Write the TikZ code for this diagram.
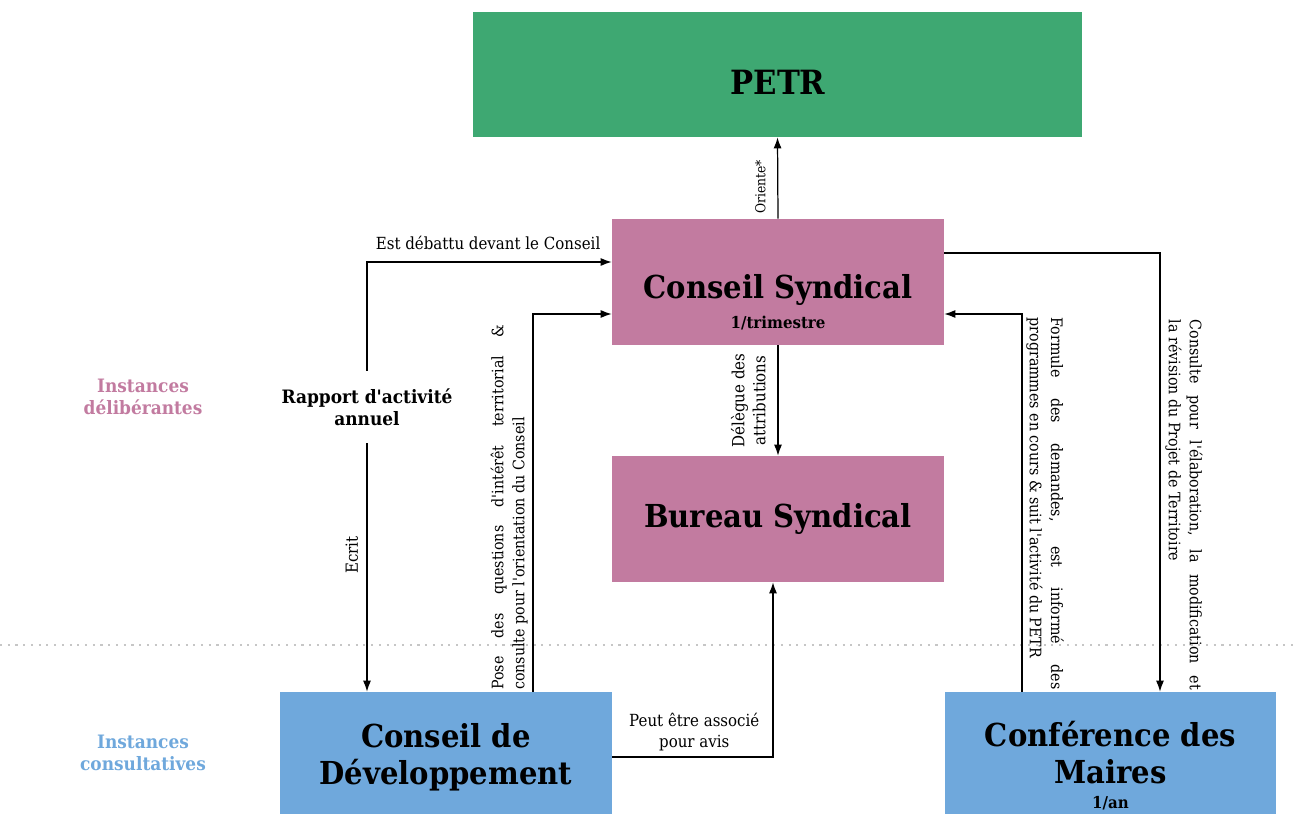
\documentclass[tikz,border=0pt]{standalone}
\usepackage{fontspec}
\setmainfont{DejaVu Serif}
\newfontfamily\slabfont[FakeStretch=0.92]{DejaVu Serif}
\newfontfamily\notefont[FakeStretch=0.9]{DejaVu Serif}
\usetikzlibrary{arrows.meta,positioning}

\definecolor{petrgreen}{HTML}{3EA872}
\definecolor{delibpink}{HTML}{C27BA0}
\definecolor{consultblue}{HTML}{6FA8DC}

\tikzset{
  instance/.style={draw=none, minimum width=6.64cm, minimum height=2.52cm, inner sep=0pt},
  title/.style={font=\slabfont\bfseries\fontsize{18}{21}\selectfont, align=center},
  smalltitle/.style={font=\slabfont\bfseries\fontsize{10.5}{12.5}\selectfont, align=center},
  note/.style={font=\notefont\fontsize{9.5}{12}\selectfont, align=center, inner sep=1pt},
  sidenote/.style={note, anchor=south, outer sep=#1},
  longnote/.style={note, font=\notefont\fontsize{9}{12}\selectfont, align=justify, text width=#1, anchor=south},
  link/.style={line width=0.7pt, -{Latex[length=2.2mm,width=1.6mm]}},
}

\begin{document}
\begin{tikzpicture}[x=0.02cm, y=-0.02cm]
\useasboundingbox (0,0) rectangle (1298,814);

% separation des instances
\draw[gray!45, line width=0.7pt, dash pattern=on 1.2pt off 3.2pt] (0,645) -- (1298,645);
\node[smalltitle, text=delibpink] (deliberantes) at (143,397) {Instances\\délibérantes};
\node[smalltitle, text=consultblue] (consultatives) at (143,753) {Instances\\consultatives};

% boites
\node[instance, fill=petrgreen, minimum width=12.18cm, minimum height=2.5cm] (petr) at (777.5,74.5) {};
\node[title, font=\slabfont\bfseries\fontsize{19}{23}\selectfont] (petrtitle) at (778,82) {PETR};

\node[instance, fill=delibpink] (cs) at (778,282) {};
\node[title] (cstitle) at (778,302) {Conseil Syndical\\[-4pt]{\fontsize{9.3}{10}\selectfont 1/trimestre}};

\node[instance, fill=delibpink, title] (bs) at (778,519) {Bureau Syndical};

\node[instance, fill=consultblue, title, minimum height=2.6cm] (cdd) at (446,757) {Conseil de\\Développement};
\node[instance, fill=consultblue, title, minimum height=2.94cm] (cdm) at (1110.5,765.5) {Conférence des\\Maires\\[-6.5pt]{\fontsize{9.3}{10}\selectfont 1/an}};

\node[smalltitle, text=black, inner ysep=10pt] (rapport) at (367,407) {Rapport d'activité\\annuel};

% liens
\draw[link] (cs.north) -- node[sidenote=6pt, font=\notefont\fontsize{7.8}{10}\selectfont, rotate=90, pos=0.39] {Oriente*} (petr.south);
\draw[link] (cs.south) -- node[sidenote=6pt, rotate=90, pos=0.5] {Délègue des\\attributions} (bs.north);
\draw[link] (cdd.east) -| node[note, pos=0.255, above=2pt] {Peut être associé\\pour avis} ([xshift=-0.1cm]bs.south);

\draw[link] (rapport.north) |- node[note, pos=1, anchor=south east, xshift=-0.18cm, yshift=0.2cm] {Est débattu devant le Conseil} ([yshift=0.4cm]cs.west);
\draw[link] (rapport.south) -- node[sidenote=4pt, rotate=90, pos=0.45] {Ecrit} (rapport.south |- cdd.north);
\draw[link] ([xshift=1.74cm]cdd.north) |- node[longnote=7.3cm, rotate=90, pos=0.244, outer sep=2pt] {Pose des questions d'intérêt territorial \&\linebreak consulte pour l'orientation du Conseil} ([yshift=-0.64cm]cs.west);

\draw[link] ([yshift=0.58cm]cs.east) -| node[longnote=7.4cm, rotate=-90, pos=0.787, outer sep=2pt] {Consulte pour l'élaboration, la modification et\linebreak la révision du Projet de Territoire} ([xshift=0.99cm]cdm.north);
\draw[link] ([xshift=-1.77cm]cdm.north) |- node[longnote=7.44cm, rotate=-90, pos=0.249, outer sep=1.5pt] {Formule des demandes, est informé des\linebreak programmes en cours \& suit l'activité du PETR} ([yshift=-0.64cm]cs.east);
\end{tikzpicture}
\end{document}
